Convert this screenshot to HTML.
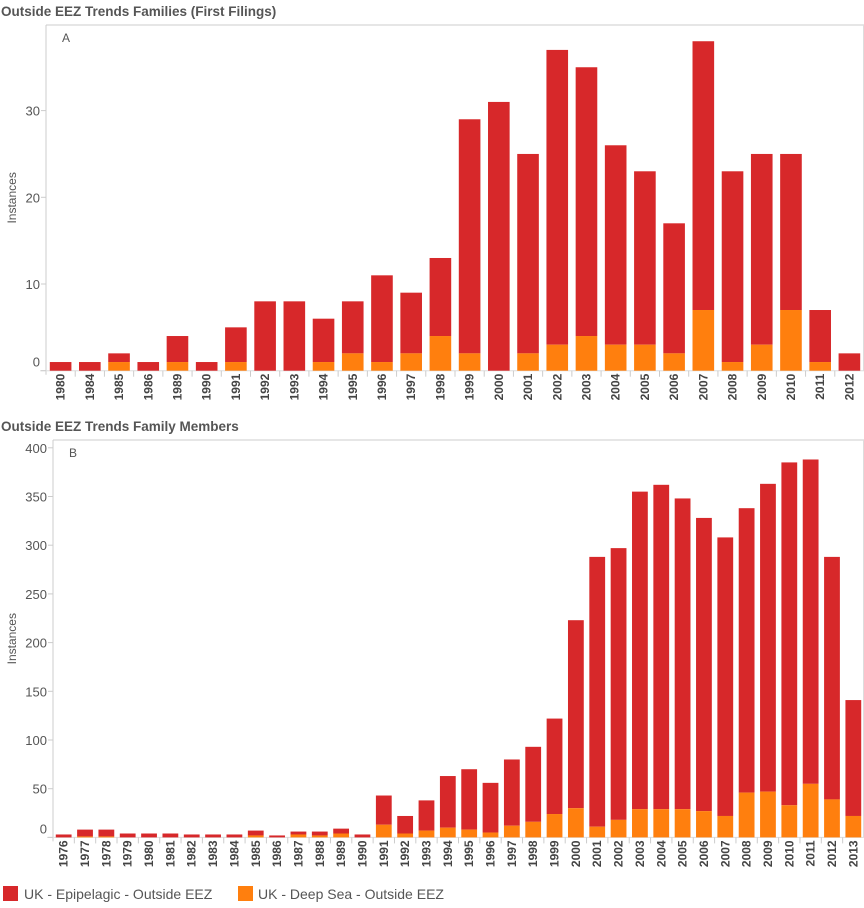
<!DOCTYPE html>
<html><head><meta charset="utf-8">
<style>
body{margin:0;background:#fff;width:864px;height:908px;overflow:hidden;font-family:"Liberation Sans",sans-serif;}
svg{display:block}
</style></head>
<body>
<svg id="chart" width="864" height="908" xmlns="http://www.w3.org/2000/svg">
<text x="1" y="16" font-size="13.5" font-weight="bold" fill="#555">Outside EEZ Trends Families (First Filings)</text>
<text x="1" y="431" font-size="13.5" font-weight="bold" fill="#555">Outside EEZ Trends Family Members</text>
<g>
<rect x="3" y="886" width="15" height="15" fill="#d7282a"/>
<text x="24" y="899" font-size="14" fill="#555">UK - Epipelagic - Outside EEZ</text>
<rect x="238" y="886" width="15" height="15" fill="#ff7f0e"/>
<text x="258" y="899" font-size="14" fill="#555">UK - Deep Sea - Outside EEZ</text>
</g>
</svg>
<script>
const catsA = ["1980","1984","1985","1986","1989","1990","1991","1992","1993","1994","1995","1996","1997","1998","1999","2000","2001","2002","2003","2004","2005","2006","2007","2008","2009","2010","2011","2012"];
const totalA = [1,1,2,1,4,1,5,8,8,6,8,11,9,13,29,31,25,37,35,26,23,17,38,23,25,25,7,2];
const deepA = [0,0,1,0,1,0,1,0,0,1,2,1,2,4,2,0,2,3,4,3,3,2,7,1,3,7,1,0];
const ticksA = [0,10,20,30];

const catsB = ["1976","1977","1978","1979","1980","1981","1982","1983","1984","1985","1986","1987","1988","1989","1990","1991","1992","1993","1994","1995","1996","1997","1998","1999","2000","2001","2002","2003","2004","2005","2006","2007","2008","2009","2010","2011","2012","2013"];
const totalB = [3,8,8,4,4,4,3,3,3,7,2,6,6,9,3,43,22,38,63,70,56,80,93,122,223,288,297,355,362,348,328,308,338,363,385,388,288,141];
const deepB = [0,1,1,0,0,0,0,0,0,2,0,3,2,4,0,13,4,7,10,8,5,12,16,24,30,11,18,29,29,29,27,22,46,47,33,55,39,22];
const ticksB = [0,50,100,150,200,250,300,350,400];

const NS = "http://www.w3.org/2000/svg";
const svg = document.getElementById("chart");
function mk(tag, attrs, parent){const e=document.createElementNS(NS,tag);for(const k in attrs)e.setAttribute(k,attrs[k]);(parent||svg).appendChild(e);return e;}

function drawChart(id, cats, total, deep, ticks, L, R, T, B, unitPx, letter){
  const g = mk("g",{});
  
  
  const y = v => B - v*unitPx;
  const bw = (R-L)/cats.length;
  const x = i => L + i*bw;
  const top = mk("line",{x1:L,x2:R,y1:T,y2:T,stroke:"#ddd","stroke-width":1.5},g);
  
  
  const rb = mk("line",{x1:R-0.5,x2:R-0.5,y1:T,y2:B,stroke:"#ddd","stroke-width":1},g);
  
  
  const ax = mk("line",{x1:L,x2:L,y1:T,y2:B+4,stroke:"#ccc","stroke-width":1},g);
  
  
  const bx = mk("line",{x1:L-6,x2:R,y1:B,y2:B,stroke:"#ddd","stroke-width":1},g);
  
  
  const lt = mk("text",{x:L+16,y:T+17,"font-size":12,fill:"#555"},g);
  lt.textContent = letter;
  
  
  ticks.forEach((t,k)=>{
    const ty = y(t);
    const tl = mk("line",{x1:L-5,x2:L,y1:ty,y2:ty,stroke:"#ccc"},g);
    
    
    const tx = mk("text",{x:L-6,y:(t===0?ty-4:ty+5),"text-anchor":"end","font-size":13,fill:"#555"},g);
    tx.textContent = t;
    
    
  });
  const yt = mk("text",{x:0,y:0,"font-size":12,fill:"#555","text-anchor":"middle",transform:`translate(16,${(T+B)/2}) rotate(-90)`},g);
  yt.textContent = "Instances";
  
  
  const gap = bw*0.13;
  cats.forEach((c,i)=>{
    const x0 = x(i)+gap, w = bw-2*gap;
    const r = mk("rect",{x:x0,y:y(total[i]),width:w,height:(total[i]-deep[i])*unitPx,fill:"#d7282a"},g);
    
    
    if(deep[i]>0){
      const o = mk("rect",{x:x0,y:y(deep[i]),width:w,height:deep[i]*unitPx,fill:"#ff7f0e"},g);
      
      
    }
    if(i>0){
      const sep = mk("line",{x1:x(i),x2:x(i),y1:B,y2:B+6,stroke:"#ccc"},g);
      
      
    }
    const cx = x(i)+bw/2+4;
    const lab = mk("text",{x:0,y:0,"font-size":12,"font-weight":"bold",fill:"#444","text-anchor":"end",transform:`translate(${cx},${B+3}) rotate(-90)`},g);
    lab.textContent = c;
    
    
  });
}
drawChart("chart-a", catsA, totalA, deepA, ticksA, 46, 864, 25, 370.7, 8.67, "A");
drawChart("chart-b", catsB, totalB, deepB, ticksB, 53, 864, 440, 837.4, 0.974, "B");
</script>
</body></html>
